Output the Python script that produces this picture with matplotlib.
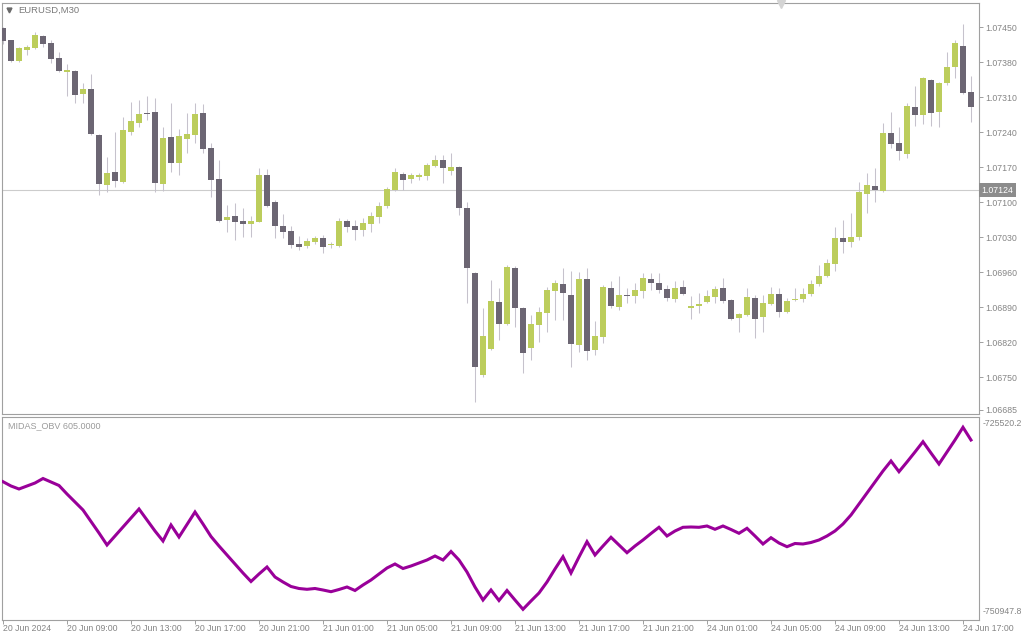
import matplotlib
matplotlib.use("Agg")
import matplotlib.pyplot as plt
from matplotlib.lines import Line2D
import numpy as np

plt.rcParams['font.family'] = ['Liberation Sans', 'DejaVu Sans']

symbol_title = "EURUSD,M30"
indicator_title = "MIDAS_OBV 605.0000"
current_price = 1.07124

open_ = [1.07448, 1.07424, 1.07382, 1.07404, 1.07408, 1.07432, 1.07418, 1.07388, 1.07360, 1.07362,
         1.07316, 1.07326, 1.07234, 1.07134, 1.07160, 1.07140, 1.07240, 1.07258, 1.07278, 1.07280,
         1.07136, 1.07230, 1.07178, 1.07226, 1.07234, 1.07278, 1.07208, 1.07146, 1.07064, 1.07072,
         1.07062, 1.07056, 1.07060, 1.07154, 1.07100, 1.07052, 1.07042, 1.07016, 1.07012, 1.07020,
         1.07028, 1.07014, 1.07012, 1.07062, 1.07052, 1.07044, 1.07056, 1.07070, 1.07092, 1.07124,
         1.07156, 1.07146, 1.07150, 1.07152, 1.07172, 1.07184, 1.07162, 1.07170, 1.07088, 1.06958,
         1.06754, 1.06806, 1.06900, 1.06856, 1.06968, 1.06888, 1.06808, 1.06854, 1.06878, 1.06922,
         1.06936, 1.06914, 1.06814, 1.06946, 1.06804, 1.06830, 1.06928, 1.06890, 1.06914, 1.06912,
         1.06922, 1.06946, 1.06938, 1.06926, 1.06906, 1.06930, 1.06888, 1.06892, 1.06900, 1.06910,
         1.06928, 1.06904, 1.06868, 1.06874, 1.06908, 1.06870, 1.06896, 1.06916, 1.06880, 1.06904,
         1.06906, 1.06916, 1.06936, 1.06952, 1.06976, 1.07028, 1.07020, 1.07030, 1.07116, 1.07132,
         1.07122, 1.07238, 1.07218, 1.07196, 1.07290, 1.07274, 1.07344, 1.07280, 1.07338, 1.07370,
         1.07412, 1.07320]

high = [1.07450, 1.07424, 1.07410, 1.07414, 1.07440, 1.07434, 1.07424, 1.07400, 1.07376, 1.07364,
        1.07338, 1.07356, 1.07236, 1.07190, 1.07240, 1.07270, 1.07300, 1.07304, 1.07312, 1.07308,
        1.07250, 1.07298, 1.07246, 1.07278, 1.07298, 1.07296, 1.07218, 1.07184, 1.07094, 1.07098,
        1.07088, 1.07072, 1.07168, 1.07166, 1.07104, 1.07076, 1.07052, 1.07032, 1.07028, 1.07032,
        1.07034, 1.07020, 1.07068, 1.07066, 1.07064, 1.07068, 1.07080, 1.07100, 1.07130, 1.07168,
        1.07160, 1.07158, 1.07158, 1.07178, 1.07194, 1.07194, 1.07198, 1.07172, 1.07100, 1.06960,
        1.06888, 1.06944, 1.06928, 1.06974, 1.06972, 1.06890, 1.06874, 1.06890, 1.06930, 1.06944,
        1.06968, 1.06962, 1.06960, 1.06968, 1.06862, 1.06934, 1.06942, 1.06952, 1.06928, 1.06938,
        1.06958, 1.06958, 1.06958, 1.06934, 1.06942, 1.06944, 1.06912, 1.06918, 1.06924, 1.06932,
        1.06948, 1.06906, 1.06878, 1.06928, 1.06914, 1.06914, 1.06930, 1.06928, 1.06908, 1.06928,
        1.06928, 1.06944, 1.06974, 1.06986, 1.07050, 1.07064, 1.07078, 1.07140, 1.07158, 1.07168,
        1.07258, 1.07280, 1.07250, 1.07298, 1.07332, 1.07350, 1.07346, 1.07340, 1.07400, 1.07424,
        1.07456, 1.07352]

low = [1.07416, 1.07380, 1.07380, 1.07394, 1.07406, 1.07410, 1.07378, 1.07360, 1.07312, 1.07298,
       1.07298, 1.07234, 1.07114, 1.07120, 1.07130, 1.07138, 1.07234, 1.07250, 1.07264, 1.07120,
       1.07122, 1.07160, 1.07154, 1.07198, 1.07218, 1.07198, 1.07110, 1.07060, 1.07040, 1.07024,
       1.07030, 1.07030, 1.07060, 1.07090, 1.07028, 1.07028, 1.07008, 1.07004, 1.07008, 1.07016,
       1.06998, 1.07008, 1.07010, 1.07040, 1.07024, 1.07032, 1.07040, 1.07058, 1.07088, 1.07122,
       1.07124, 1.07138, 1.07144, 1.07144, 1.07170, 1.07138, 1.07154, 1.07074, 1.06898, 1.06700,
       1.06750, 1.06804, 1.06824, 1.06854, 1.06850, 1.06758, 1.06784, 1.06820, 1.06840, 1.06864,
       1.06864, 1.06770, 1.06800, 1.06784, 1.06794, 1.06818, 1.06888, 1.06884, 1.06898, 1.06898,
       1.06908, 1.06924, 1.06918, 1.06902, 1.06900, 1.06914, 1.06866, 1.06878, 1.06898, 1.06898,
       1.06898, 1.06864, 1.06840, 1.06872, 1.06828, 1.06840, 1.06894, 1.06870, 1.06878, 1.06902,
       1.06900, 1.06912, 1.06932, 1.06950, 1.06962, 1.06998, 1.07010, 1.07024, 1.07078, 1.07100,
       1.07120, 1.07208, 1.07184, 1.07188, 1.07252, 1.07256, 1.07252, 1.07250, 1.07334, 1.07348,
       1.07316, 1.07260]

close = [1.07422, 1.07382, 1.07408, 1.07410, 1.07434, 1.07416, 1.07386, 1.07362, 1.07364, 1.07314,
         1.07326, 1.07236, 1.07136, 1.07158, 1.07142, 1.07244, 1.07262, 1.07276, 1.07276, 1.07138,
         1.07228, 1.07178, 1.07232, 1.07236, 1.07276, 1.07206, 1.07144, 1.07062, 1.07070, 1.07060,
         1.07056, 1.07062, 1.07154, 1.07092, 1.07052, 1.07040, 1.07014, 1.07010, 1.07022, 1.07028,
         1.07010, 1.07014, 1.07062, 1.07050, 1.07044, 1.07058, 1.07072, 1.07092, 1.07126, 1.07160,
         1.07144, 1.07154, 1.07155, 1.07174, 1.07184, 1.07168, 1.07170, 1.07088, 1.06968, 1.06770,
         1.06832, 1.06902, 1.06856, 1.06970, 1.06888, 1.06798, 1.06856, 1.06880, 1.06924, 1.06938,
         1.06918, 1.06816, 1.06946, 1.06802, 1.06832, 1.06930, 1.06892, 1.06914, 1.06912, 1.06924,
         1.06948, 1.06938, 1.06924, 1.06908, 1.06928, 1.06916, 1.06892, 1.06896, 1.06912, 1.06926,
         1.06902, 1.06866, 1.06876, 1.06910, 1.06866, 1.06898, 1.06916, 1.06880, 1.06902, 1.06906,
         1.06916, 1.06936, 1.06952, 1.06978, 1.07028, 1.07020, 1.07030, 1.07120, 1.07134, 1.07124,
         1.07238, 1.07216, 1.07202, 1.07292, 1.07274, 1.07348, 1.07278, 1.07338, 1.07370, 1.07418,
         1.07318, 1.07290]

midas_obv = [-733120, -733721, -734140, -733721, -733302, -732673, -733162, -733651, -734839, -735956,
             -737074, -738681, -740287, -741964, -740707, -739449, -738192, -736934, -738471, -740008,
             -741405, -739170, -740846, -739100, -737354, -739030, -740776, -742104, -743361, -744618,
             -745876, -747063, -746015, -745038, -746435, -747133, -747762, -748041, -748153, -748041,
             -748251, -748488, -748181, -747832, -748320, -747552, -746854, -746015, -745177, -744618,
             -745247, -744898, -744479, -744060, -743501, -744060, -742872, -744060, -745736, -747832,
             -749648, -748251, -749718, -748320, -749648, -750947.8, -749788, -748670, -747133, -745317,
             -743598, -745876, -743641, -741503, -743361, -742104, -740888, -741964, -743040, -742104,
             -741265, -740357, -739491, -740707, -740008, -739491, -739449, -739491, -739309, -739770,
             -739309, -739798, -740329, -739631, -740707, -741824, -740944, -741685, -742201, -741754,
             -741824, -741615, -741265, -740707, -740008, -739030, -737773, -736236, -734699, -733162,
             -731625, -730228, -731723, -730368, -728971, -727532, -729111, -730647, -728971, -727294,
             -725520.2, -727294]

time_labels = ["20 Jun 2024", "20 Jun 09:00", "20 Jun 13:00", "20 Jun 17:00", "20 Jun 21:00",
               "21 Jun 01:00", "21 Jun 05:00", "21 Jun 09:00", "21 Jun 13:00", "21 Jun 17:00",
               "21 Jun 21:00", "24 Jun 01:00", "24 Jun 05:00", "24 Jun 09:00", "24 Jun 13:00",
               "24 Jun 17:00"]
time_label_pos = [0, 8, 16, 24, 32, 40, 48, 56, 64, 72, 80, 88, 96, 104, 112, 120]

price_ticks = [1.07450, 1.07380, 1.07310, 1.07240, 1.07170, 1.07100, 1.07030,
               1.06960, 1.06890, 1.06820, 1.06750, 1.06685]

# ---------------- styling ----------------
W, H = 1024, 640
BULL = '#bccd5c'
BEAR = '#6c6673'
WICK = '#c6c2cc'
FRAME = '#a0a0a0'
TXT = '#858585'
LINE = '#990099'
FS = 6.3

fig = plt.figure(figsize=(W / 100, H / 100), dpi=100)
fig.patch.set_facecolor('white')

def fx(px):
    return px / W

def fy(py):
    return 1 - py / H

ax = fig.add_axes([fx(2), fy(414), fx(978.5) - fx(2), fy(2.7) - fy(414)])
axi = fig.add_axes([fx(2), fy(619.5), fx(978.5) - fx(2), fy(417) - fy(619.5)])

n = len(open_)
x = np.arange(n)
o = np.array(open_)
c = np.array(close)
hi = np.array(high)
lo = np.array(low)
bull = c >= o
colors = np.where(bull, BULL, BEAR)
bottoms = np.minimum(o, c)
heights = np.maximum(np.abs(c - o), 0.00002)

ax.axhline(current_price, color='#cccccc', lw=0.8, zorder=1)
ax.vlines(x, lo, hi, colors=WICK, lw=0.75, zorder=2)
ax.bar(x, heights, bottom=bottoms, width=0.75, color=colors, linewidth=0, zorder=3)

ax.set_xlim(-0.125, 121.94)
ax.set_ylim(1.06676, 1.07499)

for a in (ax, axi):
    for s in a.spines.values():
        s.set_color(FRAME)
        s.set_linewidth(0.8)
    a.set_facecolor('white')

ax.yaxis.tick_right()
ax.set_yticks(price_ticks)
ax.set_yticklabels([f"{p:.5f}" for p in price_ticks])
ax.tick_params(axis='y', length=3, width=0.7, color=FRAME, labelsize=FS,
               labelcolor=TXT, pad=2)
ax.set_xticks([])

# current price label box
ax.text(1.003, current_price, f"{current_price:.5f}", transform=ax.get_yaxis_transform(),
        ha='left', va='center', fontsize=FS, color='white',
        bbox=dict(boxstyle='square,pad=0.3', fc='#8c8c8c', ec='none'), zorder=5, clip_on=False)

# titles
fig.text(fx(18), fy(10), symbol_title, fontsize=6.8, color='#7a7a7a', va='center', ha='left')
fig.add_artist(Line2D([fx(9)], [fy(9.5)], marker='v', markersize=3.5, color='#6a6a6a',
                      transform=fig.transFigure, linestyle='none'))
fig.add_artist(Line2D([fx(781)], [fy(4)], marker='v', markersize=6, color='#d4d4d4',
                      transform=fig.transFigure, linestyle='none'))

# indicator
axi.plot(x, midas_obv, color=LINE, lw=2.2, solid_joinstyle='miter', zorder=3)
axi.set_xlim(-0.125, 121.94)
vmax = max(midas_obv)
vmin = min(midas_obv)
scale = (vmax - vmin) / (609.3 - 427.3)
axi.set_ylim(vmin - (619.5 - 609.3) * scale, vmax + (427.3 - 417) * scale)
axi.set_yticks([])
axi.set_xticks(time_label_pos)
axi.set_xticklabels([])
axi.tick_params(axis='x', length=3, width=0.7, color=FRAME)
for pos, lab in zip(time_label_pos, time_labels):
    axi.text(pos, -0.02, lab, transform=axi.get_xaxis_transform(), ha='left', va='top',
             fontsize=FS, color=TXT, clip_on=False)

axi.text(1.004, (619.5 - 423) / (619.5 - 417), f"{vmax:.1f}", transform=axi.transAxes,
         ha='left', va='center', fontsize=FS, color=TXT, clip_on=False)
axi.text(1.004, (619.5 - 611.5) / (619.5 - 417), f"{vmin:.1f}", transform=axi.transAxes,
         ha='left', va='center', fontsize=FS, color=TXT, clip_on=False)
fig.text(fx(8), fy(426), indicator_title, fontsize=6.5, color='#9a9a9a', va='center', ha='left')

fig.savefig('out.png', dpi=100, facecolor='white')
